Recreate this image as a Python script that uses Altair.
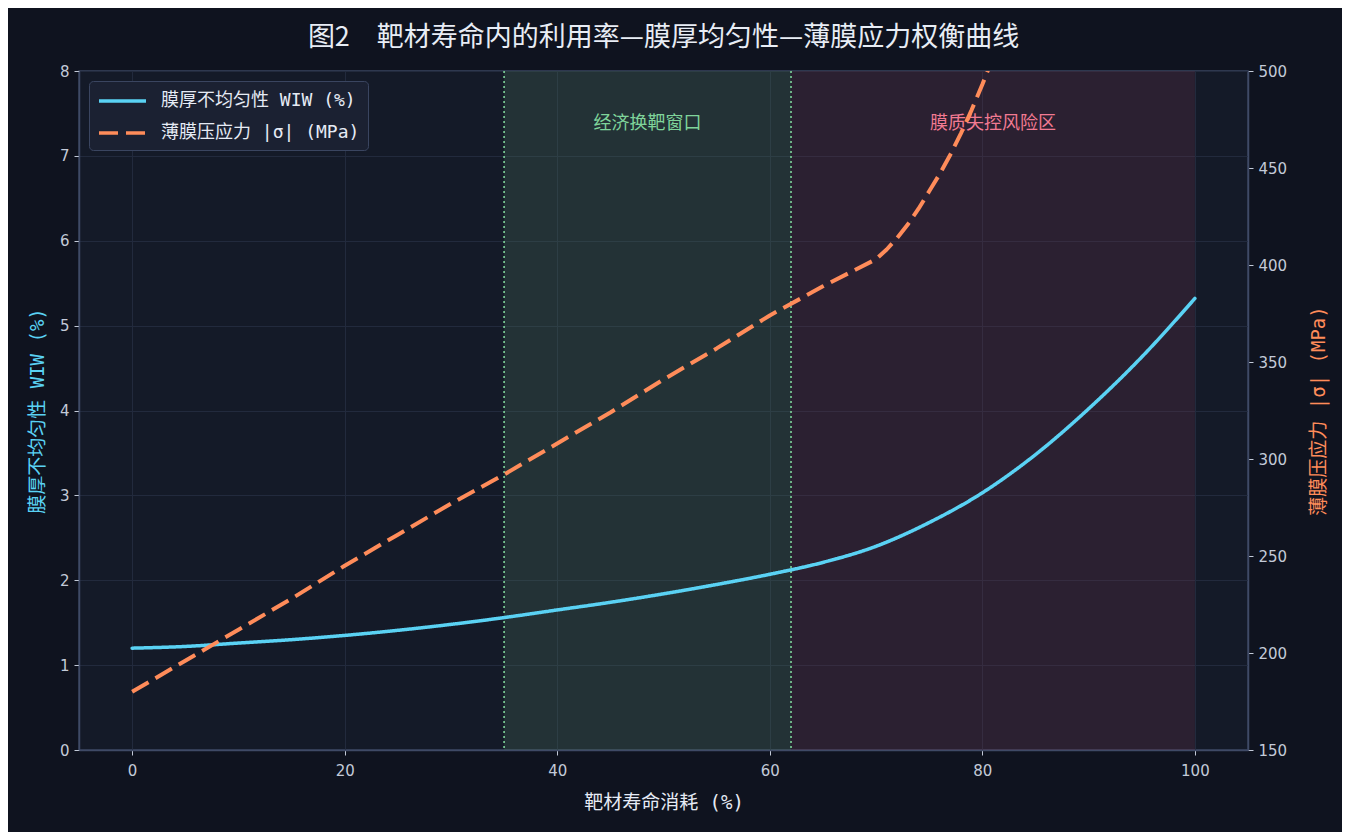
import altair as alt
import pandas as pd

# ---- data ----
x_wiw = [0, 5, 10, 15, 20, 25, 30, 35, 40, 45, 50, 55, 60, 65, 70, 75, 80, 85, 90, 95, 100]
wiw = [1.20, 1.22, 1.26, 1.30, 1.35, 1.41, 1.48, 1.56, 1.65, 1.74, 1.84, 1.95, 2.07, 2.21, 2.40, 2.68, 3.03, 3.48, 4.02, 4.63, 5.32]

x_stress = [0, 5, 10, 15, 20, 25, 30, 35, 40, 45, 50, 55, 60, 65, 70, 71, 72, 73, 74, 75, 76, 77, 78, 79, 80, 81, 82]
stress = [180, 196, 212, 228, 245, 261, 277, 292, 308, 324, 341, 357, 374, 389, 403, 408, 414, 421, 429, 438, 447, 457, 468, 480, 493, 507, 522]

band_start = [35, 62]
band_end = [62, 100]
band_color = ["#507a60", "#70324c"]

rule_x = [35, 62]

ann_x = [48.5, 81]
ann_y = [7.37, 7.37]
ann_text = ["经济换靶窗口", "膜质失控风险区"]
ann_color = ["#7fd49a", "#f27a92"]

s_wiw = "膜厚不均匀性 WIW (%)"
s_stress = "薄膜压应力 |σ| (MPa)"

FONT = "DejaVu Sans Mono, Noto Sans CJK SC"
CJK = "Noto Sans CJK SC"
TICKFONT = "DejaVu Sans"
BLUE = "#5ad2f4"
ORANGE = "#ff8c5a"

df_wiw = pd.DataFrame({"x": x_wiw, "y": wiw, "series": s_wiw})
df_stress = pd.DataFrame({"x": x_stress, "y": stress, "series": s_stress})
df_band = pd.DataFrame({"x": band_start, "x2": band_end, "c": band_color})
df_rule = pd.DataFrame({"x": rule_x})
df_ann = pd.DataFrame({"x": ann_x, "y": ann_y, "t": ann_text, "c": ann_color})

xscale = alt.Scale(domain=[-5, 105], nice=False, zero=False)
xaxis = alt.Axis(values=[0, 20, 40, 60, 80, 100], title="靶材寿命消耗 (%)", grid=True,
                 labelPadding=8, titlePadding=15)

color_scale = alt.Scale(domain=[s_wiw, s_stress], range=[BLUE, ORANGE])
dash_scale = alt.Scale(domain=[s_wiw, s_stress], range=[[1, 0], [19, 8]])
legend = alt.Legend(title=None, orient="top-left", offset=10, fillColor="#1b2132",
                    strokeColor="#3a4560", cornerRadius=4, padding=8,
                    symbolType="M-1,0H3.7", symbolStrokeWidth=3.5, symbolSize=400,
                    symbolOpacity=1,
                    labelFontSize=18, labelColor="#e6ebf5", labelFont=FONT, labelLimit=0,
                    rowPadding=11, labelOffset=40)

bands = alt.Chart(df_band).mark_rect(fillOpacity=0.25).encode(
    x=alt.X("x:Q", scale=xscale, axis=xaxis),
    x2="x2:Q",
    fill=alt.Fill("c:N", scale=None),
)

rules = alt.Chart(df_rule).mark_rule(color="#7fd49a", strokeDash=[2, 3], strokeWidth=1.6).encode(
    x=alt.X("x:Q", scale=xscale, axis=xaxis)
)

texts = alt.Chart(df_ann).mark_text(fontSize=18, font=CJK, align="center", baseline="middle").encode(
    x=alt.X("x:Q", scale=xscale, axis=xaxis),
    y=alt.Y("y:Q"),
    text="t:N",
    fill=alt.Fill("c:N", scale=None),
)

yleft = alt.Y("y:Q", scale=alt.Scale(domain=[0, 8], nice=False),
              axis=alt.Axis(orient="left", values=list(range(0, 9)), format="d", title=s_wiw,
                            titleColor=BLUE, grid=True, titleAngle=270, titlePadding=12))

line_wiw = alt.Chart(df_wiw).mark_line(strokeWidth=3.5, strokeCap="round", interpolate="monotone").encode(
    x=alt.X("x:Q", scale=xscale, axis=xaxis),
    y=yleft,
    color=alt.Color("series:N", scale=color_scale, legend=legend),
    strokeDash=alt.StrokeDash("series:N", scale=dash_scale, legend=legend),
)

left = alt.layer(bands, rules, line_wiw, texts)

line_stress = alt.Chart(df_stress).mark_line(strokeWidth=4, clip=True, strokeJoin="round").encode(
    x=alt.X("x:Q", scale=xscale, axis=xaxis),
    y=alt.Y("y:Q", scale=alt.Scale(domain=[150, 500], nice=False, zero=False),
            axis=alt.Axis(orient="right", values=list(range(150, 501, 50)), title=s_stress,
                          titleColor=ORANGE, grid=False, titleAngle=270, titlePadding=42)),
    color=alt.Color("series:N", scale=color_scale, legend=legend),
    strokeDash=alt.StrokeDash("series:N", scale=dash_scale, legend=legend),
)

chart = alt.layer(left, line_stress).resolve_scale(y="independent").properties(
    width=1169, height=679,
    autosize=alt.AutoSizeParams(type="none"),
    padding={"left": 71, "top": 63, "right": 94, "bottom": 82},
    background="#0f131f",
    title=alt.TitleParams("图2　靶材寿命内的利用率—膜厚均匀性—薄膜应力权衡曲线",
                          fontSize=27, font=CJK, color="#e8edf5", fontWeight="normal",
                          anchor="middle", offset=12),
).configure_view(
    fill="#141a28", stroke="#3a4560", strokeWidth=1.5,
).configure_axis(
    labelFont=TICKFONT, titleFont=FONT, labelFontSize=15, titleFontSize=19,
    labelColor="#c3cad8", titleColor="#e6ebf5", titleFontWeight="normal",
    domainColor="#3f4a66", domainWidth=1.5, tickColor="#c3cad8", tickSize=5,
    gridColor="#222a3d", gridWidth=1, labelPadding=5,
)

chart.save("out.html", embed_options={"renderer": "svg", "actions": False})
